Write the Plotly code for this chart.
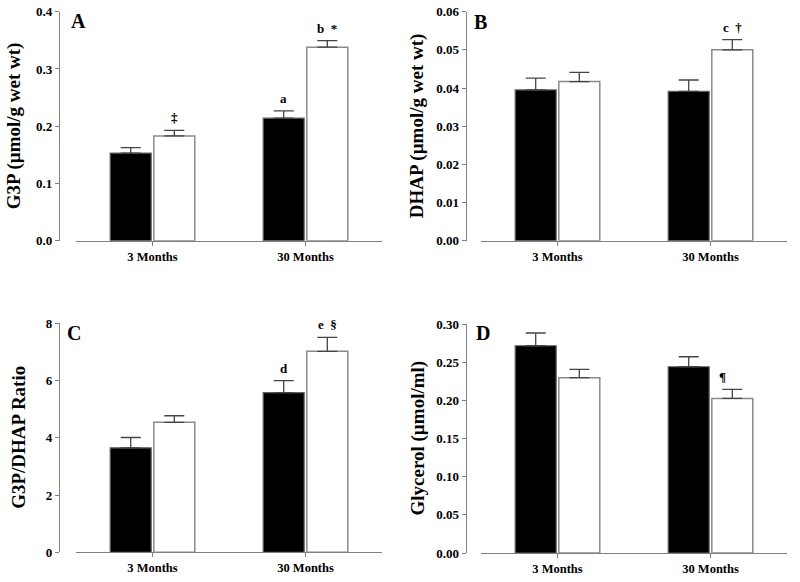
import plotly.graph_objects as go

categories = ["3 Months", "30 Months"]

# Panel A: G3P
g3p_black = [0.153, 0.214]
g3p_black_err = [0.0095, 0.0128]
g3p_white = [0.183, 0.338]
g3p_white_err = [0.0096, 0.0116]

# Panel B: DHAP
dhap_black = [0.0395, 0.0391]
dhap_black_err = [0.0031, 0.0030]
dhap_white = [0.0417, 0.0500]
dhap_white_err = [0.0024, 0.0027]

# Panel C: G3P/DHAP ratio
ratio_black = [3.65, 5.58]
ratio_black_err = [0.36, 0.42]
ratio_white = [4.54, 7.02]
ratio_white_err = [0.23, 0.49]

# Panel D: Glycerol
gly_black = [0.2715, 0.2440]
gly_black_err = [0.0167, 0.0131]
gly_white = [0.2297, 0.2025]
gly_white_err = [0.0109, 0.0118]

# Significance labels (black bar, white bar) per category
NB = "\u00a0\u00a0"
labels_A = [["", "‡"], ["a", "b" + NB + "*"]]
labels_B = [["", ""], ["", "c" + NB + "†"]]
labels_C = [["", ""], ["d", "e" + NB + "§"]]
labels_D = [["", ""], ["", "¶"]]

panel_letters = ["A", "B", "C", "D"]
y_titles = ["G3P (µmol/g wet wt)", "DHAP (µmol/g wet wt)", "G3P/DHAP Ratio", "Glycerol (µmol/ml)"]
y_ticks = [
    [0.0, 0.1, 0.2, 0.3, 0.4],
    [0.00, 0.01, 0.02, 0.03, 0.04, 0.05, 0.06],
    [0, 2, 4, 6, 8],
    [0.00, 0.05, 0.10, 0.15, 0.20, 0.25, 0.30],
]
y_formats = [".1f", ".2f", "d", ".2f"]

W, H = 800, 582
FONT = "Liberation Serif"
AXCOL = "#808080"
BARGAP = 0.43

panels = [
    (g3p_black, g3p_black_err, g3p_white, g3p_white_err, labels_A),
    (dhap_black, dhap_black_err, dhap_white, dhap_white_err, labels_B),
    (ratio_black, ratio_black_err, ratio_white, ratio_white_err, labels_C),
    (gly_black, gly_black_err, gly_white, gly_white_err, labels_D),
]

# layout in pixels: (x-axis left, x-axis right, y-axis x, y top px, y bottom px)
geom = [
    (76, 382, 59, 11.7, 240.7),
    (481, 787, 465.7, 11.7, 240.7),
    (76, 382, 59, 323.3, 552.3),
    (481, 787, 465.7, 324, 553),
]
letter_pos = [(78, 21), (481, 22), (74, 333), (482.5, 333)]
title_x = [14, 417, 19, 417]

fig = go.Figure()
annotations = []
layout = {}

for i, ((bk, bke, wh, whe, labs), (xl, xr, yx, yt, yb)) in enumerate(zip(panels, geom)):
    n = "" if i == 0 else str(i + 1)
    xa, ya = "x" + n, "y" + n
    fig.add_trace(go.Bar(
        x=categories, y=bk, xaxis=xa, yaxis=ya,
        marker=dict(color="black", line=dict(color="#606060", width=1.2)),
        error_y=dict(type="data", array=bke, arrayminus=[0] * len(bke),
                     symmetric=False, color="#444444", thickness=1.3, width=10),
        showlegend=False,
    ))
    fig.add_trace(go.Bar(
        x=categories, y=wh, xaxis=xa, yaxis=ya,
        marker=dict(color="white", line=dict(color="#8a8a8a", width=1.5)),
        error_y=dict(type="data", array=whe, arrayminus=[0] * len(whe),
                     symmetric=False, color="#444444", thickness=1.3, width=10),
        showlegend=False,
    ))
    ydom = [1 - yb / H, 1 - yt / H]
    layout["xaxis" + n] = dict(
        domain=[xl / W, xr / W], anchor=ya, type="category",
        categoryorder="array", categoryarray=categories, range=[-0.5, 1.5],
        showline=True, linecolor=AXCOL, linewidth=1.3,
        ticks="outside", ticklen=4, tickcolor=AXCOL, tickwidth=1,
        tickfont=dict(family=FONT, size=12.5, color="black", weight="bold"),
        showgrid=False, zeroline=False, fixedrange=True, automargin=False,
    )
    layout["yaxis" + n] = dict(
        domain=ydom, anchor="free", position=yx / W, range=[y_ticks[i][0], y_ticks[i][-1]],
        tickvals=y_ticks[i], tickformat=y_formats[i],
        showline=True, linecolor=AXCOL, linewidth=1.3,
        ticks="outside", ticklen=4, tickcolor=AXCOL, tickwidth=1,
        tickfont=dict(family=FONT, size=13, color="black", weight="bold"),
        showgrid=False, zeroline=False, fixedrange=True, automargin=False,
    )
    # significance labels above error bars
    off = (1 - BARGAP) / 4
    for ci in range(len(categories)):
        for si, (vals, errs, sign) in enumerate([(bk, bke, -1), (wh, whe, 1)]):
            t = labs[ci][si]
            if t:
                annotations.append(dict(
                    x=ci + sign * off, y=vals[ci] + errs[ci], xref=xa, yref=ya,
                    text=t, showarrow=False, yanchor="bottom", yshift=3,
                    xshift=-10 if t == "¶" else 0,
                    font=dict(family=FONT, size=13, color="black", weight="bold"),
                ))
    # panel letter
    lx, ly = letter_pos[i]
    annotations.append(dict(
        x=lx / W, y=1 - ly / H, xref="paper", yref="paper", text=panel_letters[i],
        showarrow=False, xanchor="center", yanchor="middle",
        font=dict(family=FONT, size=20, color="black", weight="bold"),
    ))
    # y-axis title
    annotations.append(dict(
        x=title_x[i] / W, y=(ydom[0] + ydom[1]) / 2, xref="paper", yref="paper",
        text=y_titles[i], textangle=-90, showarrow=False,
        xanchor="center", yanchor="middle",
        font=dict(family=FONT, size=19, color="black", weight="bold"),
    ))

fig.update_layout(
    width=W, height=H, margin=dict(l=0, r=0, t=0, b=0, pad=0, autoexpand=False),
    paper_bgcolor="white", plot_bgcolor="white",
    barmode="group", bargap=BARGAP, bargroupgap=0.06,
    annotations=annotations, showlegend=False,
    **layout,
)

fig.write_html(
    "out.html",
    config={"displayModeBar": False},
    post_script="document.body.style.margin='0';document.body.style.overflow='hidden';",
)
